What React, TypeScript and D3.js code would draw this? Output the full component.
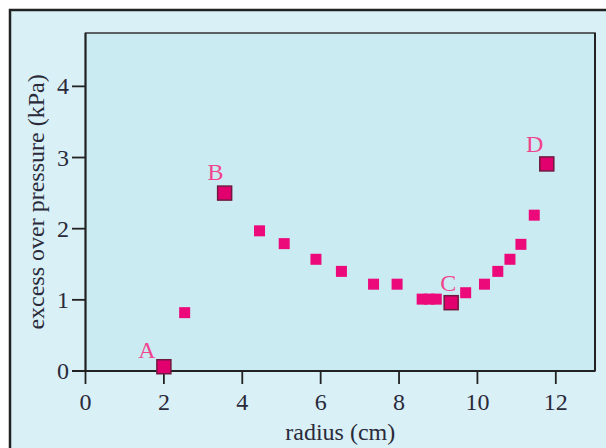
import * as d3 from 'd3';

const radius = [2.0, 2.53, 3.55, 4.44, 5.07, 5.88, 6.53, 7.35, 7.95, 8.59, 8.77, 8.95, 9.33, 9.70, 10.18, 10.52, 10.83, 11.11, 11.45, 11.77];
const pressure = [0.06, 0.82, 2.5, 1.97, 1.79, 1.57, 1.40, 1.22, 1.22, 1.01, 1.01, 1.01, 0.96, 1.10, 1.22, 1.40, 1.57, 1.78, 2.19, 2.91];
const marked = [
  { name: 'A', x: 2.0, y: 0.06, dx: -17, dy: -17 },
  { name: 'B', x: 3.55, y: 2.5, dx: -9, dy: -21 },
  { name: 'C', x: 9.33, y: 0.96, dx: -3, dy: -20 },
  { name: 'D', x: 11.77, y: 2.91, dx: -12, dy: -20 },
];
const xTicks = [0, 2, 4, 6, 8, 10, 12];
const yTicks = [0, 1, 2, 3, 4];

const W = 606, H = 448;
const left = 85.5, right = 595, top = 33, bottom = 371;
const font = '"Liberation Serif", "Times New Roman", serif';

export default function App() {
  const x = d3.scaleLinear().domain([0, 13]).range([left, right]);
  const y = d3.scaleLinear().domain([0, 4.75]).range([bottom, top]);
  const pts = radius.map((r, i) => ({ r, p: pressure[i] }))
    .filter(d => !marked.some(m => m.x === d.r && m.y === d.p));

  return (
    <div style={{ position: 'fixed', left: 0, top: 0 }}>
      <svg width={W} height={H} style={{ display: 'block' }}>
        <rect x={10} y={10} width={W + 20} height={H + 20} fill="#d9f0f6" stroke="#222" strokeWidth={2.5} />
        <rect x={left} y={top} width={right - left} height={bottom - top} fill="#cbebf2" stroke="#333" strokeWidth={1.5} />
        <line x1={left} x2={left} y1={top} y2={bottom} stroke="#222" strokeWidth={2} />
        <line x1={72} x2={right} y1={bottom} y2={bottom} stroke="#222" strokeWidth={2} />
        <line x1={right} x2={right} y1={top} y2={bottom} stroke="#222" strokeWidth={2} />
        {xTicks.map(t => (
          <g key={'x' + t}>
            <line x1={x(t)} x2={x(t)} y1={bottom} y2={bottom + 13} stroke="#222" strokeWidth={1.8} />
            <text x={x(t)} y={bottom + 31} textAnchor="middle" dominantBaseline="central"
              fontFamily={font} fontSize={24} fill="#2a2a3a">{t}</text>
          </g>
        ))}
        {yTicks.map(t => (
          <g key={'y' + t}>
            <line x1={72} x2={left} y1={y(t)} y2={y(t)} stroke="#222" strokeWidth={1.8} />
            <text x={69} y={y(t)} textAnchor="end" dominantBaseline="central"
              fontFamily={font} fontSize={24} fill="#2a2a3a">{t}</text>
          </g>
        ))}
        <text x={(left + right) / 2} y={432} textAnchor="middle" dominantBaseline="central"
          fontFamily={font} fontSize={24} fill="#2a2a3a">radius (cm)</text>
        <text transform={`translate(36,${(top + bottom) / 2}) rotate(-90)`} textAnchor="middle" dominantBaseline="central"
          fontFamily={font} fontSize={24} fill="#2a2a3a">excess over pressure (kPa)</text>
        {pts.map((d, i) => (
          <rect key={i} x={x(d.r) - 5.5} y={y(d.p) - 5.5} width={11} height={11} fill="#ec0a7b" />
        ))}
        {marked.map(m => (
          <g key={m.name}>
            <rect x={x(m.x) - 7} y={y(m.y) - 7} width={14} height={14} fill="#e2006f" stroke="#6e1a3e" strokeWidth={1.5} />
            <text x={x(m.x) + m.dx} y={y(m.y) + m.dy} textAnchor="middle" dominantBaseline="central"
              fontFamily={font} fontSize={24} fill="#f0458e">{m.name}</text>
          </g>
        ))}
      </svg>
    </div>
  );
}
